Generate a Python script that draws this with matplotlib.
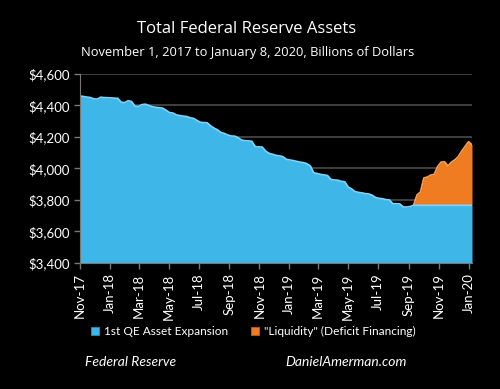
import numpy as np
import pandas as pd
import matplotlib
matplotlib.use("Agg")
import matplotlib.pyplot as plt
import matplotlib.dates as mdates
from matplotlib.patches import Patch
from matplotlib.ticker import FuncFormatter

# -----------------------------
# Data: weekly total assets (billions)
# -----------------------------
weeks = pd.date_range("2017-11-01", "2020-01-08", freq="W-WED")

total_assets = [
    4460, 4457, 4453, 4450, 4442, 4440, 4452, 4450, 4449, 4448,
    4446, 4445, 4420, 4418, 4430, 4425, 4395, 4393, 4405, 4408,
    4400, 4392, 4388, 4386, 4383, 4370, 4355, 4352, 4340, 4336,
    4332, 4330, 4322, 4318, 4305, 4293, 4291, 4290, 4270, 4256,
    4245, 4228, 4222, 4212, 4206, 4205, 4195, 4180, 4176, 4175,
    4172, 4138, 4137, 4136, 4110, 4096, 4090, 4083, 4080, 4075,
    4058, 4054, 4050, 4045, 4040, 4037, 4030, 4016, 3972, 3968,
    3962, 3959, 3955, 3930, 3927, 3925, 3918, 3916, 3882, 3870,
    3853, 3848, 3845, 3840, 3838, 3830, 3815, 3810, 3808, 3802,
    3800, 3776, 3776, 3775, 3756, 3755, 3758, 3766, 3832, 3850,
    3940, 3945, 3958, 3962, 4012, 4040, 4043, 4016, 4040, 4054,
    4075, 4110, 4140, 4170, 4150,
]

QE_FLOOR = 3766                      # level where the QE unwind stopped
LIQUIDITY_START = pd.Timestamp("2019-09-11")

total = np.array(total_assets, dtype=float)
qe_part = np.where(weeks >= LIQUIDITY_START, QE_FLOOR, total)

BLUE = "#3FB6E8"
BLUE_EDGE = "#7FD4F5"
ORANGE = "#F07C22"
ORANGE_EDGE = "#F7A253"
GRID = "#4a4a4a"

plt.rcParams["font.family"] = ["Lato", "DejaVu Sans"]

fig = plt.figure(figsize=(5, 3.89), dpi=100, facecolor="black")
ax = fig.add_axes([0.16, 0.324, 0.784, 0.486], facecolor="black")

# gridlines
for v in range(3600, 4601, 200):
    ax.axhline(v, color=GRID, lw=1.2, zorder=0)

# orange liquidity area, then blue QE area
ax.fill_between(weeks, QE_FLOOR, total, where=weeks >= LIQUIDITY_START,
                color=ORANGE, lw=0, zorder=2)
ax.plot(weeks[weeks >= LIQUIDITY_START], total[weeks >= LIQUIDITY_START],
        color=ORANGE_EDGE, lw=1.2, zorder=3)
ax.fill_between(weeks, 3400, qe_part, color=BLUE, lw=0, zorder=4)
ax.plot(weeks, qe_part, color=BLUE_EDGE, lw=1.2, zorder=5)

ax.set_xlim(weeks[0], weeks[-1])
ax.set_ylim(3400, 4600)
ax.set_yticks(range(3400, 4601, 200))
ax.yaxis.set_major_formatter(FuncFormatter(lambda v, p: f"${v:,.0f}"))

ax.xaxis.set_major_locator(mdates.MonthLocator(bymonth=[1, 3, 5, 7, 9, 11]))
ax.xaxis.set_major_formatter(mdates.DateFormatter("%b-%y"))
plt.setp(ax.get_xticklabels(), rotation=90)

ax.tick_params(colors="#777777", labelcolor="white", labelsize=9.5,
               length=4, width=1)
for side in ["top", "right"]:
    ax.spines[side].set_visible(False)
for side in ["left", "bottom"]:
    ax.spines[side].set_color("#777777")
    ax.spines[side].set_zorder(6)

# titles
fig.text(0.494, 0.925, "Total Federal Reserve Assets", color="white",
         fontsize=12, ha="center", va="center", family=["Open Sans", "DejaVu Sans"])
fig.text(0.496, 0.866, "November 1, 2017 to January 8, 2020, Billions of Dollars",
         color="white", fontsize=9.3, ha="center", va="center",
         family=["Open Sans", "DejaVu Sans"])

# legend
handles = [Patch(facecolor=BLUE, edgecolor="#1e8fc0", lw=0.6),
           Patch(facecolor=ORANGE, edgecolor="#c85a10", lw=0.6)]
fig.legend(handles, ["1st QE Asset Expansion", "\"Liquidity\" (Deficit Financing)"],
           loc="center left", bbox_to_anchor=(0.17, 0.147), ncol=2, frameon=False,
           fontsize=8.6, labelcolor="white", handlelength=0.7, handleheight=0.7,
           handletextpad=0.4, columnspacing=1.9, borderpad=0)

# sources
fig.text(0.17, 0.069, "Federal Reserve", color="white", fontsize=10,
         style="italic", ha="left", va="center")
fig.text(0.57, 0.069, "DanielAmerman.com", color="white", fontsize=10,
         style="italic", ha="left", va="center")

fig.savefig("out.png", dpi=100, facecolor="black")
